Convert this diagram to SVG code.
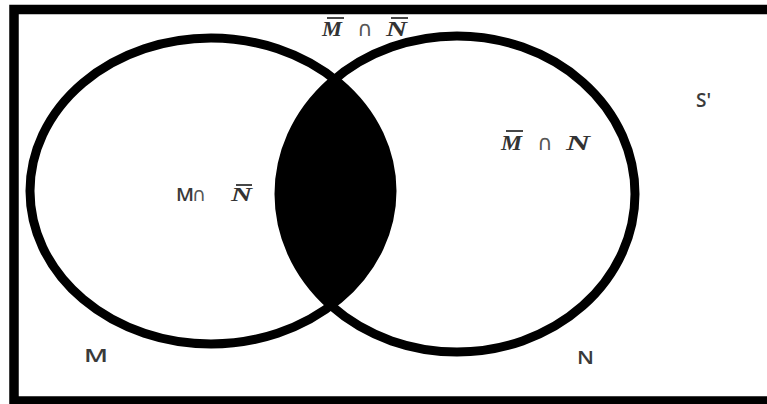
<svg xmlns="http://www.w3.org/2000/svg" width="767" height="404" viewBox="0 0 767 404">
<style>
.frame{fill:none;stroke:#000;stroke-width:9.5}
.circ{fill:none;stroke:#000;stroke-width:9}
.math{font-family:"Liberation Serif",serif;font-style:italic;font-weight:bold;font-size:22px;fill:#333}
.op{font-family:"DejaVu Sans",sans-serif;font-size:21px;fill:#555}
.sans{font-family:"Open Sans","Liberation Sans",sans-serif;font-size:18px;font-weight:600;fill:#3a3a3a}
.bar{stroke:#333;stroke-width:1.8}
</style>
<defs>
<clipPath id="clipM"><ellipse cx="211" cy="191" rx="181" ry="153"/></clipPath>
</defs>
<rect width="767" height="404" fill="#fff"/>
<g id="universe"><rect class="frame" x="14" y="9.5" width="800" height="391.5"/></g>
<g id="intersection"><ellipse cx="457" cy="194" rx="178" ry="158" clip-path="url(#clipM)" fill="#000"/></g>
<g id="setM"><ellipse class="circ" cx="211" cy="191" rx="181" ry="153"/></g>
<g id="setN"><ellipse class="circ" cx="457" cy="194" rx="178" ry="158"/></g>
<g id="label-notM-notN">
<text class="math" x="322" y="36" textLength="20" lengthAdjust="spacingAndGlyphs">M</text>
<text class="op" x="357" y="36">∩</text>
<text class="math" x="386" y="36" textLength="21" lengthAdjust="spacingAndGlyphs">N</text>
<line class="bar" x1="327" y1="18" x2="344" y2="18"/>
<line class="bar" x1="391" y1="18" x2="408" y2="18"/>
</g>
<g id="label-M-notN">
<text class="sans" x="176" y="201" textLength="18" lengthAdjust="spacingAndGlyphs">M</text>
<text class="op" x="192" y="201" style="font-size:19px">∩</text>
<text class="math" x="231" y="201" style="font-size:19px" textLength="21" lengthAdjust="spacingAndGlyphs">N</text>
<line class="bar" x1="236" y1="185" x2="252" y2="185"/>
</g>
<g id="label-notM-N">
<text class="math" x="501" y="150" textLength="21" lengthAdjust="spacingAndGlyphs">M</text>
<text class="op" x="537" y="150">∩</text>
<text class="math" x="566" y="150" textLength="24" lengthAdjust="spacingAndGlyphs">N</text>
<line class="bar" x1="506" y1="131" x2="523" y2="131"/>
</g>
<g id="label-S"><text class="sans" x="696" y="107" style="font-size:19px">S'</text></g>
<g id="label-M"><text class="sans" x="84" y="362" textLength="24" lengthAdjust="spacingAndGlyphs">M</text></g>
<g id="label-N"><text class="sans" x="577" y="364" textLength="17" lengthAdjust="spacingAndGlyphs">N</text></g>
</svg>
